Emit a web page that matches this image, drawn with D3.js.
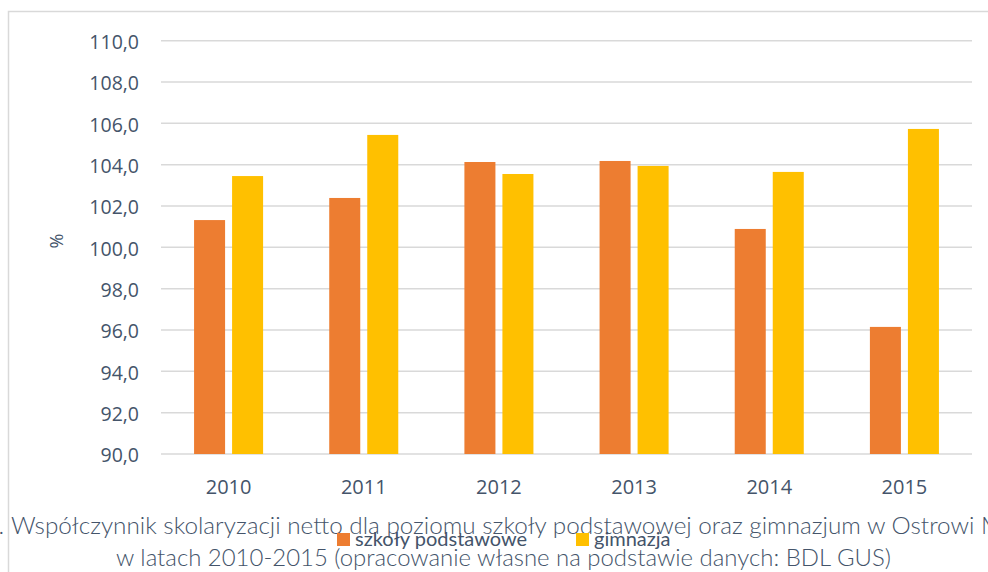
<!DOCTYPE html>
<html>
<head>
<meta charset="utf-8">
<script src="https://cdn.jsdelivr.net/npm/d3@7"></script>
<style>
  body { margin: 0; background: #fff; }
  text { font-family: Lato, "Open Sans", sans-serif; fill: #44546A; }
  .tick text { font-family: "Open Sans", sans-serif; }
</style>
</head>
<body>
<script>
// data
var years = ["2010", "2011", "2012", "2013", "2014", "2015"];
var seriesNames = ["szkoły podstawowe", "gimnazja"];
var podstawowe = [101.32, 102.39, 104.13, 104.18, 100.89, 96.15];
var gimnazja = [103.45, 105.44, 103.55, 103.94, 103.65, 105.73];
var yTicks = [90, 92, 94, 96, 98, 100, 102, 104, 106, 108, 110];
var colors = ["#ED7D31", "#FFC000"];

var width = 988, height = 572;

var svg = d3.select("body").append("svg")
    .attr("width", width)
    .attr("height", height);

// chart area border (runs off the right and bottom)
svg.append("rect")
    .attr("x", 8.5).attr("y", 11.5)
    .attr("width", 1000).attr("height", 600)
    .attr("fill", "none")
    .attr("stroke", "#d9d9d9")
    .attr("stroke-width", 1.5);

// scales
var x0 = d3.scaleBand().domain(years).range([161, 972]).padding(0);
var x1 = d3.scaleBand().domain(seriesNames)
    .range([0, x0.bandwidth()])
    .paddingInner(0.184).paddingOuter(0.87);
var y = d3.scaleLinear().domain([90, 110]).range([454, 40.7]);

// gridlines
svg.append("g")
  .selectAll("line")
  .data(yTicks)
  .enter().append("line")
    .attr("x1", 161).attr("x2", 972)
    .attr("y1", function(d) { return y(d); })
    .attr("y2", function(d) { return y(d); })
    .attr("stroke", "#d9d9d9")
    .attr("stroke-width", 1.5);

// y axis labels
var yAxis = svg.append("g")
    .attr("transform", "translate(139,0)")
    .call(d3.axisLeft(y).tickValues(yTicks).tickSize(0)
      .tickFormat(function(d) { return d3.format(".1f")(d).replace(".", ","); }));
yAxis.select(".domain").remove();
yAxis.attr("font-family", null);
yAxis.selectAll("text")
    .attr("x", 0)
    .attr("dy", "0.4em")
    .style("font-size", "19.5px")
    .style("fill", "#44546A");

// "%" label
svg.append("text")
    .attr("transform", "translate(63,241) rotate(-90)")
    .style("text-anchor", "middle")
    .style("font-family", "'Open Sans', sans-serif")
    .style("font-size", "18px")
    .text("%");

// bars
var table = years.map(function(yr, i) {
  return {year: yr, values: [podstawowe[i], gimnazja[i]]};
});

var group = svg.selectAll(".year")
    .data(table)
    .enter().append("g")
    .attr("class", "year")
    .attr("transform", function(d) { return "translate(" + x0(d.year) + ",0)"; });

group.selectAll("rect")
    .data(function(d) {
      return d.values.map(function(v, j) { return {name: seriesNames[j], value: v, k: j}; });
    })
    .enter().append("rect")
    .attr("x", function(d) { return x1(d.name); })
    .attr("width", x1.bandwidth())
    .attr("y", function(d) { return y(d.value); })
    .attr("height", function(d) { return y(90) - y(d.value); })
    .attr("fill", function(d) { return colors[d.k]; });

// x axis labels
var xAxis = svg.append("g")
    .attr("transform", "translate(0,454)")
    .call(d3.axisBottom(x0).tickSize(0));
xAxis.select(".domain").remove();
xAxis.attr("font-family", null);
xAxis.selectAll("text")
    .attr("y", 0)
    .attr("dy", "40px")
    .style("font-size", "20px")
    .style("fill", "#44546A");

// caption (sits under the chart, overlapping the legend)
var cap2 = svg.append("text")
    .attr("x", 503.5).attr("y", 566)
    .style("text-anchor", "middle")
    .style("font-weight", 300)
    .style("font-size", "20px")
    .text("w latach 2010-2015 (opracowanie własne na podstawie danych: BDL GUS)");
var capSize = 20 * 775 / cap2.node().getComputedTextLength();
cap2.style("font-size", capSize + "px");

svg.append("text")
    .attr("x", 4).attr("y", 534)
    .style("text-anchor", "end")
    .style("font-weight", 300)
    .style("font-size", capSize + "px")
    .text("Wykres 1.");

// first line: "W" at x=12, "Ostrowi" ending near x=975, the rest runs off the edge
var cap1a = svg.append("text")
    .attr("x", 11).attr("y", 534)
    .style("font-weight", 300)
    .style("font-size", "20px")
    .text("Współczynnik skolaryzacji netto dla poziomu szkoły podstawowej oraz gimnazjum w Ostrowi");
var cap1Size = 20 * 964 / cap1a.node().getComputedTextLength();
cap1a.style("font-size", cap1Size + "px")
    .text("Współczynnik skolaryzacji netto dla poziomu szkoły podstawowej oraz gimnazjum w Ostrowi Mazowieckiej");

// legend
var legendX = [337, 576];
var legend = svg.selectAll(".legend")
    .data(seriesNames)
    .enter().append("g")
    .attr("class", "legend")
    .attr("transform", function(d, i) { return "translate(" + legendX[i] + ",533)"; });

legend.append("rect")
    .attr("width", 13).attr("height", 13)
    .attr("fill", function(d, i) { return colors[i]; });

legend.append("text")
    .attr("x", 18).attr("y", 12.5)
    .style("font-size", "20px")
    .text(function(d) { return d; });
</script>
</body>
</html>
